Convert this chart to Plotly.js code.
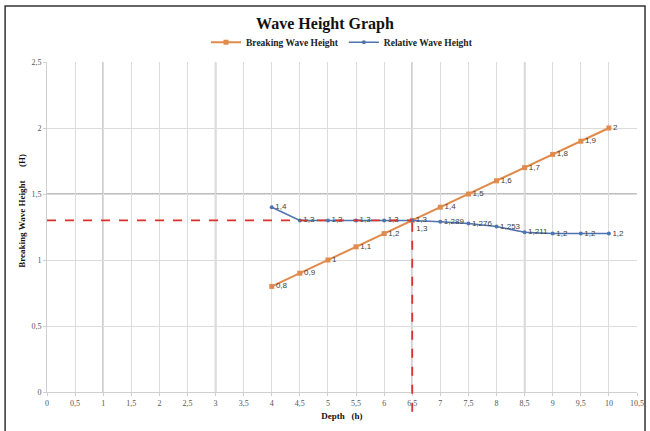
<!DOCTYPE html>
<html>
<head>
<meta charset="utf-8">
<script src="https://cdn.plot.ly/plotly-3.0.1.min.js"></script>
<style>html,body{margin:0;padding:0;background:#fff}#chart{width:650px;height:431px}</style>
</head>
<body>
<div id="chart"></div>
<script>
const depth = [4, 4.5, 5, 5.5, 6, 6.5, 7, 7.5, 8, 8.5, 9, 9.5, 10];
const breakingWave = [0.8, 0.9, 1, 1.1, 1.2, 1.3, 1.4, 1.5, 1.6, 1.7, 1.8, 1.9, 2];
const relativeWave = [1.4, 1.3, 1.3, 1.3, 1.3, 1.3, 1.289, 1.276, 1.253, 1.211, 1.2, 1.2, 1.2];
const readDepth = 6.5;
const readHeight = 1.3;
const darkGridX = [1, 3, 6.5, 8.5];
const darkGridY = [1.5];

const fmt = v => String(v).replace('.', ',');
const serif = 'Liberation Serif, Times New Roman, serif';
const labelFont = {family: 'Liberation Sans, Arial, sans-serif', size: 8, color: '#404040'};

const traces = [
  {
    x: depth, y: breakingWave, name: '<b>Breaking Wave Height</b>',
    mode: 'lines+markers+text', type: 'scatter',
    line: {color: '#E08B4C', width: 2},
    marker: {color: '#E08B4C', size: 5, symbol: 'square'},
    text: breakingWave.map(fmt),
    textposition: depth.map(d => d === readDepth ? 'bottom right' : 'middle right'),
    textfont: labelFont
  },
  {
    x: depth, y: relativeWave, name: '<b>Relative Wave Height</b>',
    mode: 'lines+markers+text', type: 'scatter',
    line: {color: '#4F73B0', width: 1.5},
    marker: {color: '#4F73B0', size: 4},
    text: relativeWave.map(fmt), textposition: 'middle right',
    textfont: labelFont
  }
];

const shapes = [];
darkGridX.forEach(v => shapes.push({type: 'line', xref: 'x', yref: 'y', x0: v, x1: v, y0: 0, y1: 2.5, layer: 'below', line: {color: '#a8a8a8', width: 1.5}}));
darkGridY.forEach(v => shapes.push({type: 'line', xref: 'x', yref: 'y', x0: 0, x1: 10.5, y0: v, y1: v, layer: 'below', line: {color: '#a8a8a8', width: 1.5}}));
shapes.push({type: 'line', xref: 'x', yref: 'y', x0: 0, x1: readDepth, y0: readHeight, y1: readHeight, line: {color: '#D9312B', width: 1.8, dash: 'dash'}});
shapes.push({type: 'line', xref: 'x', yref: 'paper', x0: readDepth, x1: readDepth, y0: -0.06, y1: (readHeight / 2.5), line: {color: '#D9312B', width: 1.8, dash: 'dash'}});
shapes.push({type: 'rect', xref: 'paper', yref: 'paper', x0: -0.071, x1: 1.0136, y0: -0.13, y1: 1.1697, line: {color: '#333', width: 1.5}, fillcolor: 'rgba(0,0,0,0)'});

const layout = {
  width: 650, height: 431,
  margin: {l: 47, r: 13, t: 62, b: 39},
  separators: ',.',
  paper_bgcolor: '#fff', plot_bgcolor: '#fff',
  showlegend: true,
  title: {text: '<b>Wave Height Graph</b>', font: {family: serif, size: 16, color: '#111'}, x: 0.5, xanchor: 'center', y: 0.945, yanchor: 'middle'},
  legend: {orientation: 'h', x: 0.5, xanchor: 'center', y: 1.06, yanchor: 'middle', font: {family: serif, size: 9.5, color: '#222'}, itemwidth: 30},
  xaxis: {
    range: [0, 10.5], dtick: 0.5, tick0: 0, showgrid: true, gridcolor: '#dcdcdc', gridwidth: 1,
    zeroline: false, showline: true, linecolor: '#cfcfcf', ticks: 'outside', ticklen: 3, tickcolor: '#cfcfcf',
    tickfont: {family: serif, size: 8, color: '#555'},
    title: {text: '<b>Depth   (h)</b>', font: {family: serif, size: 9, color: '#111'}, standoff: 6}
  },
  yaxis: {
    range: [0, 2.5], dtick: 0.5, tick0: 0, showgrid: true, gridcolor: '#dcdcdc', gridwidth: 1,
    zeroline: false, showline: true, linecolor: '#cfcfcf', ticks: 'outside', ticklen: 3, tickcolor: '#cfcfcf',
    tickfont: {family: serif, size: 8, color: '#555'}
  },
  annotations: [{
    text: '<b>Breaking Wave Height      (H)</b>', xref: 'paper', yref: 'paper', x: -0.042, y: 0.55,
    textangle: -90, showarrow: false, xanchor: 'center', yanchor: 'middle',
    font: {family: serif, size: 9, color: '#111'}
  }],
  shapes: shapes
};

Plotly.newPlot('chart', traces, layout, {displayModeBar: false, staticPlot: true});
</script>
</body>
</html>
